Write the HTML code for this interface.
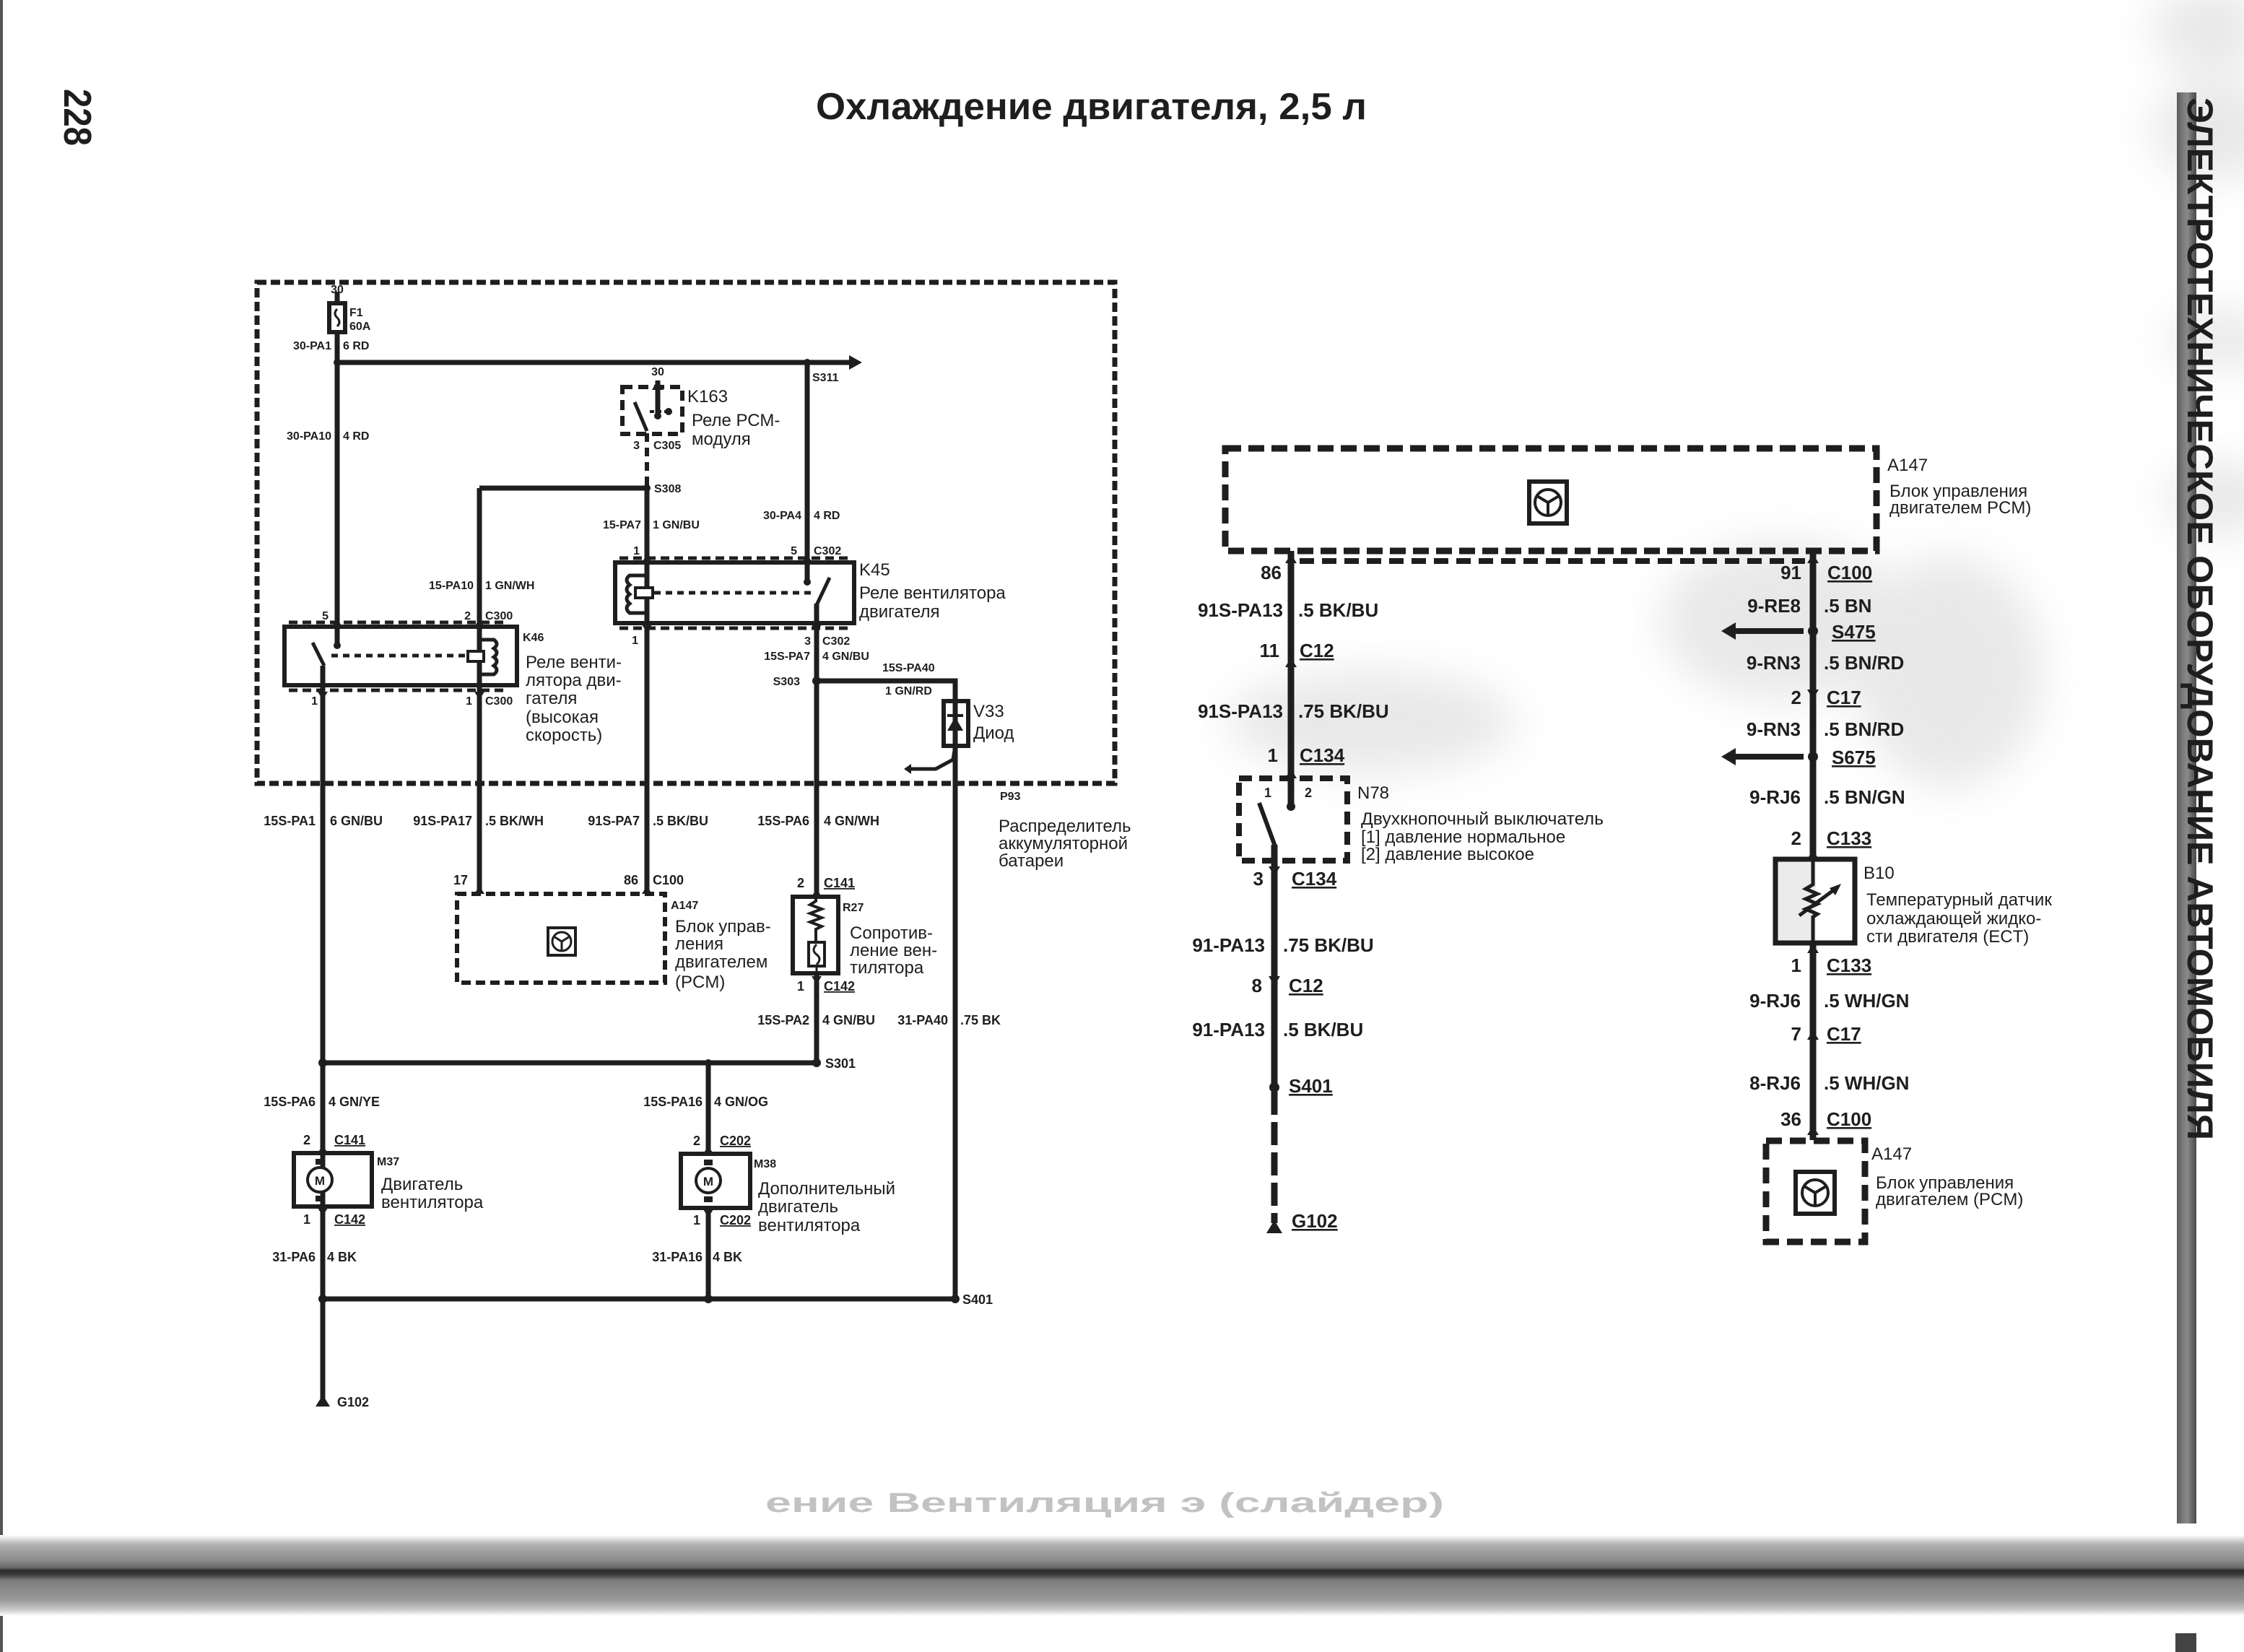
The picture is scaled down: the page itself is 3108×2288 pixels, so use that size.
<!DOCTYPE html>
<html><head><meta charset="utf-8">
<style>
html,body{margin:0;padding:0;background:#fff}
svg{display:block}
text{font-family:"Liberation Sans",sans-serif;fill:#1e1e1e}
.s{font-size:16px;font-weight:bold}
.t{font-size:18px;font-weight:bold}
.m{font-size:24px}
.r{font-size:26px;font-weight:bold}
.u{text-decoration:underline}
.w{stroke:#1e1e1e;fill:none;stroke-width:7}
.wt{stroke:#1e1e1e;fill:none;stroke-width:7}
.wr{stroke:#1e1e1e;fill:none;stroke-width:9}
.box{stroke:#1e1e1e;fill:none;stroke-width:6}
</style></head><body>
<svg width="3108" height="2288" viewBox="0 0 3108 2288" xmlns="http://www.w3.org/2000/svg">
<defs>
<filter id="bl" x="-50%" y="-50%" width="200%" height="200%"><feGaussianBlur stdDeviation="30"/></filter>
<linearGradient id="bg" x1="0" y1="0" x2="0" y2="1">
<stop offset="0" stop-color="#ffffff"/>
<stop offset="0.12" stop-color="#b0b0b0"/>
<stop offset="0.3" stop-color="#8e8e8e"/>
<stop offset="0.40" stop-color="#6a6a6a"/>
<stop offset="0.44" stop-color="#2a2a2a"/>
<stop offset="0.49" stop-color="#3c3c3c"/>
<stop offset="0.56" stop-color="#7c7c7c"/>
<stop offset="0.8" stop-color="#9a9a9a"/>
<stop offset="0.92" stop-color="#c8c8c8"/>
<stop offset="1" stop-color="#ffffff"/>
</linearGradient>
<linearGradient id="vb" x1="0" y1="0" x2="1" y2="0">
<stop offset="0" stop-color="#5a5a5a"/>
<stop offset="0.3" stop-color="#7a7a7a"/>
<stop offset="0.55" stop-color="#8a8a8a"/>
<stop offset="0.75" stop-color="#6a6a6a"/>
<stop offset="1" stop-color="#4a4a4a"/>
</linearGradient>
</defs>

<!-- scan smudges -->
<g filter="url(#bl)" fill="#c4c4c4" opacity="0.38">
<ellipse cx="2470" cy="860" rx="170" ry="110"/>
<ellipse cx="2700" cy="930" rx="130" ry="160"/>
<ellipse cx="1900" cy="1000" rx="200" ry="70"/>
<ellipse cx="3070" cy="180" rx="90" ry="70"/>
<ellipse cx="3080" cy="470" rx="80" ry="40"/>
<ellipse cx="3080" cy="690" rx="80" ry="50"/>
<ellipse cx="3060" cy="40" rx="80" ry="60"/>
</g>

<!-- left page edge -->
<rect x="0" y="0" width="4" height="2288" fill="#555"/>

<!-- page number -->
<text transform="translate(89,123) rotate(90)" font-size="54" font-weight="bold" textLength="79" lengthAdjust="spacingAndGlyphs">228</text>

<!-- title -->
<text x="1130" y="165" font-size="52" font-weight="bold" textLength="763" lengthAdjust="spacingAndGlyphs">Охлаждение двигателя, 2,5 л</text>

<!-- right side band -->
<rect x="3015" y="128" width="27" height="1982" fill="url(#vb)"/>
<text transform="translate(3030,135) rotate(90)" font-size="50" font-weight="bold" textLength="1444" lengthAdjust="spacingAndGlyphs">ЭЛЕКТРОТЕХНИЧЕСКОЕ ОБОРУДОВАНИЕ АВТОМОБИЛЯ</text>
<rect x="3013" y="2262" width="29" height="26" fill="#444"/>

<!-- bottom band -->
<rect x="0" y="2126" width="3108" height="112" fill="url(#bg)"/>
<text x="1060" y="2094" font-size="38" font-weight="bold" fill="#c2c2c2" style="fill:#c2c2c2" textLength="940" lengthAdjust="spacingAndGlyphs">ение Вентиляция э (слайдер)</text>

<!-- ================= LEFT DIAGRAM ================= -->
<rect x="356" y="391" width="1188" height="694" fill="none" stroke="#1e1e1e" stroke-width="7" stroke-dasharray="13 6"/>

<!-- fuse and bus -->
<path class="wt" d="M467 404 V420 M467 460 V894"/>
<rect x="456" y="420" width="22" height="40" class="box" stroke-width="5"/>
<path d="M467 428 q-6 6 0 12 q6 6 0 12" stroke="#1e1e1e" stroke-width="3" fill="none"/>
<text x="467" y="406" class="s" text-anchor="middle">30</text>
<text x="484" y="438" class="s">F1</text>
<text x="484" y="457" class="s">60A</text>
<text x="459" y="484" class="s" text-anchor="end">30-PA1</text>
<text x="475" y="484" class="s">6 RD</text>
<path class="wt" d="M467 502 H1180"/>
<polygon points="1176,492 1194,502 1176,512" fill="#1e1e1e"/>
<circle cx="467" cy="502" r="5" fill="#1e1e1e"/>
<text x="1125" y="528" class="s">S311</text>
<text x="459" y="609" class="s" text-anchor="end">30-PA10</text>
<text x="475" y="609" class="s">4 RD</text>

<!-- wire 30-PA4 -->
<path class="wt" d="M1118 502 V806"/>
<circle cx="1118" cy="502" r="5" fill="#1e1e1e"/>
<circle cx="1118" cy="806" r="5" fill="#1e1e1e"/>
<text x="1110" y="719" class="s" text-anchor="end">30-PA4</text>
<text x="1127" y="719" class="s">4 RD</text>
<text x="1104" y="768" class="s" text-anchor="end">5</text>
<text x="1127" y="768" class="s">C302</text>

<!-- K163 -->
<rect x="862" y="536" width="83" height="65" fill="none" stroke="#1e1e1e" stroke-width="6" stroke-dasharray="14 8"/>
<path class="wt" d="M911 527 V574" stroke-width="5"/>
<polygon points="903,540 911,526 919,540" fill="#1e1e1e"/>
<circle cx="911" cy="576" r="5" fill="#1e1e1e"/>
<path d="M900 570 H926" stroke="#1e1e1e" stroke-width="4" stroke-dasharray="6 4"/>
<circle cx="926" cy="570" r="5" fill="#1e1e1e"/>
<path d="M879 557 L896 597" stroke="#1e1e1e" stroke-width="5"/>
<text x="911" y="520" class="s" text-anchor="middle">30</text>
<text x="952" y="557" class="m" font-size="22">K163</text>
<text x="958" y="590" class="m">Реле РСМ-</text>
<text x="958" y="616" class="m">модуля</text>
<text x="886" y="622" class="s" text-anchor="end">3</text>
<text x="905" y="622" class="s">C305</text>
<path d="M896 600 V672" stroke="#1e1e1e" stroke-width="6" stroke-dasharray="12 8"/>

<!-- S308 -->
<path class="wt" d="M664 676 H896 M896 672 V1238"/>
<circle cx="896" cy="676" r="5" fill="#1e1e1e"/>
<text x="906" y="682" class="s">S308</text>
<text x="888" y="732" class="s" text-anchor="end">15-PA7</text>
<text x="904" y="732" class="s">1 GN/BU</text>
<path class="wt" d="M664 676 V1238"/>
<text x="656" y="816" class="s" text-anchor="end">15-PA10</text>
<text x="672" y="816" class="s">1 GN/WH</text>

<!-- K45 relay -->
<rect x="852" y="779" width="331" height="84" class="box"/>
<path d="M858 773 H1178 M858 870 H1178" stroke="#1e1e1e" stroke-width="5" stroke-dasharray="12 7"/>
<path d="M896 797 H872 q-8 6 0 13 q-8 6 0 13 q-8 6 0 13 q-8 6 0 13 H896" stroke="#1e1e1e" stroke-width="5" fill="none"/>
<rect x="880" y="814" width="24" height="14" fill="#fff" stroke="#1e1e1e" stroke-width="4"/>
<path d="M906 821 H1128" stroke="#1e1e1e" stroke-width="5" stroke-dasharray="9 7"/>
<path d="M1131 838 L1149 800" stroke="#1e1e1e" stroke-width="5"/>
<path class="wt" d="M1131 836 V1242"/>
<polygon points="889,779 896,768 903,779" fill="#1e1e1e"/>
<polygon points="1111,779 1118,768 1125,779" fill="#1e1e1e"/>
<polygon points="889,865 896,876 903,865" fill="#1e1e1e"/>
<polygon points="1124,865 1131,876 1138,865" fill="#1e1e1e"/>
<text x="886" y="768" class="s" text-anchor="end">1</text>
<text x="1190" y="797" class="m" font-size="22">K45</text>
<text x="1190" y="829" class="m">Реле вентилятора</text>
<text x="1190" y="855" class="m">двигателя</text>
<text x="884" y="892" class="s" text-anchor="end">1</text>
<text x="1123" y="893" class="s" text-anchor="end">3</text>
<text x="1139" y="893" class="s">C302</text>
<text x="1122" y="914" class="s" text-anchor="end">15S-PA7</text>
<text x="1139" y="914" class="s">4 GN/BU</text>

<!-- K46 relay -->
<rect x="394" y="868" width="322" height="81" class="box"/>
<path d="M400 862 H700 M400 956 H700" stroke="#1e1e1e" stroke-width="5" stroke-dasharray="12 7"/>
<circle cx="467" cy="894" r="5" fill="#1e1e1e"/>
<path d="M433 890 L449 922" stroke="#1e1e1e" stroke-width="5"/>
<path d="M459 908 H650" stroke="#1e1e1e" stroke-width="5" stroke-dasharray="9 7"/>
<path d="M664 886 H684 q8 6 0 12 q8 6 0 12 q8 6 0 12 q8 6 0 12 H664" stroke="#1e1e1e" stroke-width="5" fill="none"/>
<rect x="648" y="902" width="22" height="14" fill="#fff" stroke="#1e1e1e" stroke-width="4"/>
<polygon points="460,868 467,857 474,868" fill="#1e1e1e"/>
<polygon points="657,868 664,857 671,868" fill="#1e1e1e"/>
<polygon points="440,958 447,969 454,958" fill="#1e1e1e"/>
<polygon points="657,958 664,969 671,958" fill="#1e1e1e"/>
<text x="455" y="858" class="s" text-anchor="end">5</text>
<text x="652" y="858" class="s" text-anchor="end">2</text>
<text x="672" y="858" class="s">C300</text>
<text x="724" y="888" class="s">K46</text>
<text x="728" y="925" class="m">Реле венти-</text>
<text x="728" y="950" class="m">лятора дви-</text>
<text x="728" y="975" class="m">гателя</text>
<text x="728" y="1001" class="m">(высокая</text>
<text x="728" y="1026" class="m">скорость)</text>
<text x="440" y="976" class="s" text-anchor="end">1</text>
<text x="654" y="976" class="s" text-anchor="end">1</text>
<text x="672" y="976" class="s">C300</text>

<!-- diode branch -->
<path class="wt" d="M1131 943 H1323 V971"/>
<circle cx="1131" cy="943" r="6" fill="#1e1e1e"/>
<text x="1108" y="949" class="s" text-anchor="end">S303</text>
<text x="1222" y="930" class="s">15S-PA40</text>
<text x="1226" y="962" class="s">1 GN/RD</text>
<rect x="1307" y="971" width="34" height="62" class="box"/>
<path class="wt" d="M1323 971 V1033"/>
<polygon points="1312,1012 1334,1012 1323,993" fill="#1e1e1e"/>
<path d="M1312 991 H1334" stroke="#1e1e1e" stroke-width="4"/>
<text x="1348" y="993" class="m" font-size="22">V33</text>
<text x="1348" y="1023" class="m">Диод</text>
<path d="M1323 1033 L1320 1052 L1296 1065 H1262" stroke="#1e1e1e" stroke-width="5" fill="none"/>
<polygon points="1262,1058 1252,1065 1262,1072" fill="#1e1e1e"/>
<text x="1385" y="1108" class="s">P93</text>
<text x="1383" y="1152" class="m">Распределитель</text>
<text x="1383" y="1176" class="m">аккумуляторной</text>
<text x="1383" y="1200" class="m">батареи</text>

<!-- lower wires left diagram -->
<path class="w" stroke-width="8" d="M447 922 V1941"/>
<path class="w" stroke-width="8" d="M664 1086 V1238"/>
<path class="w" stroke-width="8" d="M896 1086 V1238"/>
<path class="w" stroke-width="8" d="M1131 1086 V1242"/>
<path class="w" stroke-width="8" d="M1323 1033 V1799"/>
<text x="437" y="1143" class="t" text-anchor="end">15S-PA1</text>
<text x="457" y="1143" class="t">6 GN/BU</text>
<text x="654" y="1143" class="t" text-anchor="end">91S-PA17</text>
<text x="672" y="1143" class="t">.5 BK/WH</text>
<text x="886" y="1143" class="t" text-anchor="end">91S-PA7</text>
<text x="904" y="1143" class="t">.5 BK/BU</text>
<text x="1121" y="1143" class="t" text-anchor="end">15S-PA6</text>
<text x="1141" y="1143" class="t">4 GN/WH</text>

<!-- PCM A147 left -->
<rect x="633" y="1238" width="288" height="123" fill="none" stroke="#1e1e1e" stroke-width="6" stroke-dasharray="13 7"/>
<polygon points="657,1238 664,1227 671,1238" fill="#1e1e1e"/>
<polygon points="889,1238 896,1227 903,1238" fill="#1e1e1e"/>
<text x="648" y="1225" class="t" text-anchor="end">17</text>
<text x="884" y="1225" class="t" text-anchor="end">86</text>
<text x="904" y="1225" class="t">C100</text>
<g transform="translate(759,1285)">
<rect x="0" y="0" width="38" height="38" fill="none" stroke="#1e1e1e" stroke-width="4"/>
<circle cx="19" cy="19" r="13" fill="none" stroke="#1e1e1e" stroke-width="3"/>
<path d="M19 19 V32 M19 19 L8 12 M19 19 L30 12" stroke="#1e1e1e" stroke-width="3"/>
</g>
<text x="929" y="1259" class="s">A147</text>
<text x="935" y="1291" class="m">Блок управ-</text>
<text x="935" y="1315" class="m">ления</text>
<text x="935" y="1340" class="m">двигателем</text>
<text x="935" y="1368" class="m">(PCM)</text>

<!-- R27 -->
<rect x="1098" y="1242" width="63" height="106" class="box"/>
<path d="M1130 1242 V1248 l-8 5 l16 6 l-16 6 l16 6 l-16 6 l16 6 l-8 4 V1305" stroke="#1e1e1e" stroke-width="4" fill="none"/>
<rect x="1120" y="1305" width="22" height="33" fill="none" stroke="#1e1e1e" stroke-width="4"/>
<path d="M1131 1308 q-8 8 0 14 q8 6 0 14 M1131 1338 V1348" stroke="#1e1e1e" stroke-width="3" fill="none"/>
<polygon points="1124,1242 1131,1231 1138,1242" fill="#1e1e1e"/>
<polygon points="1124,1352 1131,1363 1138,1352" fill="#1e1e1e"/>
<text x="1114" y="1229" class="t" text-anchor="end">2</text>
<text x="1141" y="1229" class="t u">C141</text>
<text x="1167" y="1262" class="s">R27</text>
<text x="1177" y="1300" class="m">Сопротив-</text>
<text x="1177" y="1324" class="m">ление вен-</text>
<text x="1177" y="1348" class="m">тилятора</text>
<text x="1114" y="1372" class="t" text-anchor="end">1</text>
<text x="1141" y="1372" class="t u">C142</text>
<path class="w" stroke-width="8" d="M1131 1348 V1472"/>
<text x="1121" y="1419" class="t" text-anchor="end">15S-PA2</text>
<text x="1139" y="1419" class="t">4 GN/BU</text>
<text x="1313" y="1419" class="t" text-anchor="end">31-PA40</text>
<text x="1330" y="1419" class="t">.75 BK</text>

<!-- S301 junction -->
<path class="w" stroke-width="7" d="M447 1472 H1131"/>
<circle cx="447" cy="1472" r="6" fill="#1e1e1e"/>
<circle cx="1131" cy="1472" r="6" fill="#1e1e1e"/>
<circle cx="981" cy="1472" r="5" fill="#1e1e1e"/>
<text x="1143" y="1479" class="t">S301</text>
<path class="w" stroke-width="8" d="M981 1472 V1598"/>
<text x="437" y="1532" class="t" text-anchor="end">15S-PA6</text>
<text x="455" y="1532" class="t">4 GN/YE</text>
<text x="973" y="1532" class="t" text-anchor="end">15S-PA16</text>
<text x="989" y="1532" class="t">4 GN/OG</text>

<!-- M37 -->
<rect x="407" y="1597" width="108" height="74" class="box"/>
<rect x="437" y="1605" width="12" height="8" fill="#1e1e1e"/>
<rect x="437" y="1656" width="12" height="8" fill="#1e1e1e"/>
<circle cx="443" cy="1634" r="17" fill="#fff" stroke="#1e1e1e" stroke-width="4"/>
<text x="443" y="1641" font-size="17" font-weight="bold" text-anchor="middle">M</text>
<polygon points="440,1597 447,1586 454,1597" fill="#1e1e1e"/>
<polygon points="440,1673 447,1684 454,1673" fill="#1e1e1e"/>
<text x="430" y="1585" class="t" text-anchor="end">2</text>
<text x="463" y="1585" class="t u">C141</text>
<text x="522" y="1614" class="s">M37</text>
<text x="528" y="1648" class="m">Двигатель</text>
<text x="528" y="1673" class="m">вентилятора</text>
<text x="430" y="1695" class="t" text-anchor="end">1</text>
<text x="463" y="1695" class="t u">C142</text>

<!-- M38 -->
<rect x="943" y="1598" width="96" height="75" class="box"/>
<rect x="975" y="1606" width="12" height="8" fill="#1e1e1e"/>
<rect x="975" y="1657" width="12" height="8" fill="#1e1e1e"/>
<circle cx="981" cy="1635" r="17" fill="#fff" stroke="#1e1e1e" stroke-width="4"/>
<text x="981" y="1642" font-size="17" font-weight="bold" text-anchor="middle">M</text>
<polygon points="974,1598 981,1587 988,1598" fill="#1e1e1e"/>
<polygon points="974,1675 981,1686 988,1675" fill="#1e1e1e"/>
<text x="970" y="1586" class="t" text-anchor="end">2</text>
<text x="997" y="1586" class="t u">C202</text>
<text x="1044" y="1617" class="s">M38</text>
<text x="1050" y="1654" class="m">Дополнительный</text>
<text x="1050" y="1679" class="m">двигатель</text>
<text x="1050" y="1705" class="m">вентилятора</text>
<text x="970" y="1696" class="t" text-anchor="end">1</text>
<text x="997" y="1696" class="t u">C202</text>
<path class="w" stroke-width="8" d="M981 1673 V1799"/>

<text x="437" y="1747" class="t" text-anchor="end">31-PA6</text>
<text x="453" y="1747" class="t">4 BK</text>
<text x="973" y="1747" class="t" text-anchor="end">31-PA16</text>
<text x="987" y="1747" class="t">4 BK</text>

<path class="w" stroke-width="7" d="M447 1799 H1323"/>
<circle cx="447" cy="1799" r="6" fill="#1e1e1e"/>
<circle cx="981" cy="1799" r="6" fill="#1e1e1e"/>
<circle cx="1323" cy="1799" r="6" fill="#1e1e1e"/>
<text x="1333" y="1806" class="t">S401</text>
<polygon points="437,1948 447,1932 457,1948" fill="#1e1e1e"/>
<text x="467" y="1948" class="t">G102</text>

<!-- ================= RIGHT DIAGRAM ================= -->
<rect x="1697" y="621" width="902" height="142" fill="none" stroke="#1e1e1e" stroke-width="9" stroke-dasharray="22 10"/>
<path d="M1800 777 H2500" stroke="#1e1e1e" stroke-width="8" stroke-dasharray="20 11"/>
<g transform="translate(2118,667)">
<rect x="0" y="0" width="52" height="58" fill="none" stroke="#1e1e1e" stroke-width="6"/>
<circle cx="26" cy="29" r="18" fill="none" stroke="#1e1e1e" stroke-width="4"/>
<path d="M26 29 V47 M26 29 L11 20 M26 29 L41 20" stroke="#1e1e1e" stroke-width="4"/>
</g>
<text x="2614" y="652" class="m">A147</text>
<text x="2617" y="688" class="m" font-size="23">Блок управления</text>
<text x="2617" y="711" class="m" font-size="23">двигателем PCM)</text>

<!-- left column wire -->
<path class="wr" d="M1788 763 V1117"/>
<polygon points="1780,780 1788,767 1796,780" fill="#1e1e1e"/>
<polygon points="1780,924 1788,911 1796,924" fill="#1e1e1e"/>
<polygon points="1780,1078 1788,1065 1796,1078" fill="#1e1e1e"/>
<circle cx="1788" cy="1117" r="6" fill="#1e1e1e"/>
<text x="1775" y="802" class="r" text-anchor="end">86</text>
<text x="1777" y="854" class="r" text-anchor="end">91S-PA13</text>
<text x="1798" y="854" class="r">.5 BK/BU</text>
<text x="1772" y="910" class="r" text-anchor="end">11</text>
<text x="1800" y="910" class="r u">C12</text>
<text x="1777" y="994" class="r" text-anchor="end">91S-PA13</text>
<text x="1798" y="994" class="r">.75 BK/BU</text>
<text x="1770" y="1055" class="r" text-anchor="end">1</text>
<text x="1800" y="1055" class="r u">C134</text>

<!-- N78 -->
<rect x="1716" y="1078" width="150" height="114" fill="none" stroke="#1e1e1e" stroke-width="8" stroke-dasharray="18 10"/>
<text x="1756" y="1104" class="t" text-anchor="middle">1</text>
<text x="1812" y="1104" class="t" text-anchor="middle">2</text>
<path d="M1744 1112 L1766 1172" stroke="#1e1e1e" stroke-width="6"/>
<text x="1880" y="1106" class="m">N78</text>
<text x="1885" y="1142" class="m" font-size="23" textLength="336" lengthAdjust="spacingAndGlyphs">Двухкнопочный выключатель</text>
<text x="1885" y="1167" class="m" font-size="23">[1] давление нормальное</text>
<text x="1885" y="1191" class="m" font-size="23">[2] давление высокое</text>

<path class="wr" d="M1765 1170 V1506"/>
<polygon points="1757,1200 1765,1213 1773,1200" fill="#1e1e1e"/>
<polygon points="1757,1352 1765,1365 1773,1352" fill="#1e1e1e"/>
<text x="1750" y="1226" class="r" text-anchor="end">3</text>
<text x="1789" y="1226" class="r u">C134</text>
<text x="1752" y="1318" class="r" text-anchor="end">91-PA13</text>
<text x="1777" y="1318" class="r">.75 BK/BU</text>
<text x="1748" y="1374" class="r" text-anchor="end">8</text>
<text x="1785" y="1374" class="r u">C12</text>
<text x="1752" y="1435" class="r" text-anchor="end">91-PA13</text>
<text x="1777" y="1435" class="r">.5 BK/BU</text>
<circle cx="1765" cy="1506" r="7" fill="#1e1e1e"/>
<text x="1785" y="1513" class="r u">S401</text>
<path d="M1765 1512 V1694" stroke="#1e1e1e" stroke-width="9" stroke-dasharray="32 10"/>
<polygon points="1754,1708 1765,1690 1776,1708" fill="#1e1e1e"/>
<text x="1789" y="1700" class="r u">G102</text>

<!-- right column wire -->
<path class="wr" d="M2511 763 V1190 M2511 1306 V1579"/>
<polygon points="2503,780 2511,767 2519,780" fill="#1e1e1e"/>
<text x="2495" y="802" class="r" text-anchor="end">91</text>
<text x="2531" y="802" class="r u">C100</text>
<text x="2494" y="848" class="r" text-anchor="end">9-RE8</text>
<text x="2526" y="848" class="r">.5 BN</text>
<circle cx="2511" cy="874" r="7" fill="#1e1e1e"/>
<path d="M2498 874 H2400" stroke="#1e1e1e" stroke-width="8"/>
<polygon points="2404,862 2384,874 2404,886" fill="#1e1e1e"/>
<text x="2537" y="884" class="r u">S475</text>
<text x="2494" y="927" class="r" text-anchor="end">9-RN3</text>
<text x="2526" y="927" class="r">.5 BN/RD</text>
<polygon points="2503,955 2511,968 2519,955" fill="#1e1e1e"/>
<text x="2495" y="975" class="r" text-anchor="end">2</text>
<text x="2530" y="975" class="r u">C17</text>
<text x="2494" y="1019" class="r" text-anchor="end">9-RN3</text>
<text x="2526" y="1019" class="r">.5 BN/RD</text>
<circle cx="2511" cy="1048" r="7" fill="#1e1e1e"/>
<path d="M2498 1048 H2400" stroke="#1e1e1e" stroke-width="8"/>
<polygon points="2404,1036 2384,1048 2404,1060" fill="#1e1e1e"/>
<text x="2537" y="1058" class="r u">S675</text>
<text x="2494" y="1113" class="r" text-anchor="end">9-RJ6</text>
<text x="2526" y="1113" class="r">.5 BN/GN</text>
<polygon points="2503,1190 2511,1177 2519,1190" fill="#1e1e1e"/>
<text x="2495" y="1170" class="r" text-anchor="end">2</text>
<text x="2530" y="1170" class="r u">C133</text>

<!-- B10 -->
<rect x="2459" y="1190" width="110" height="116" fill="#ebebeb" stroke="#1e1e1e" stroke-width="7"/>
<rect x="2515" y="1194" width="50" height="108" fill="#fff"/>
<path d="M2511 1190 V1225 l-10 6 l16 7 l-16 7 l16 7 l-16 7 l16 7 l-6 4 V1306" stroke="#1e1e1e" stroke-width="5" fill="none"/>
<path d="M2492 1268 L2546 1228" stroke="#1e1e1e" stroke-width="5"/>
<polygon points="2534,1230 2550,1224 2542,1240" fill="#1e1e1e"/>
<text x="2581" y="1217" class="m" font-size="26">B10</text>
<text x="2585" y="1254" class="m" font-size="23">Температурный датчик</text>
<text x="2585" y="1280" class="m" font-size="23">охлаждающей жидко-</text>
<text x="2585" y="1305" class="m" font-size="23">сти двигателя (ECT)</text>

<polygon points="2503,1320 2511,1307 2519,1320" fill="#1e1e1e"/>
<text x="2495" y="1346" class="r" text-anchor="end">1</text>
<text x="2530" y="1346" class="r u">C133</text>
<text x="2494" y="1395" class="r" text-anchor="end">9-RJ6</text>
<text x="2526" y="1395" class="r">.5 WH/GN</text>
<polygon points="2503,1440 2511,1427 2519,1440" fill="#1e1e1e"/>
<text x="2495" y="1441" class="r" text-anchor="end">7</text>
<text x="2530" y="1441" class="r u">C17</text>
<text x="2494" y="1509" class="r" text-anchor="end">8-RJ6</text>
<text x="2526" y="1509" class="r">.5 WH/GN</text>
<polygon points="2503,1572 2511,1559 2519,1572" fill="#1e1e1e"/>
<text x="2495" y="1559" class="r" text-anchor="end">36</text>
<text x="2530" y="1559" class="r u">C100</text>

<!-- A147 small -->
<rect x="2446" y="1580" width="137" height="140" fill="none" stroke="#1e1e1e" stroke-width="9" stroke-dasharray="22 11"/>
<g transform="translate(2487,1623)">
<rect x="0" y="0" width="54" height="58" fill="none" stroke="#1e1e1e" stroke-width="6"/>
<circle cx="27" cy="29" r="18" fill="none" stroke="#1e1e1e" stroke-width="4"/>
<path d="M27 29 V47 M27 29 L12 20 M27 29 L42 20" stroke="#1e1e1e" stroke-width="4"/>
</g>
<text x="2592" y="1606" class="m" font-size="26">A147</text>
<text x="2598" y="1646" class="m" font-size="23">Блок управления</text>
<text x="2598" y="1669" class="m" font-size="23">двигателем (PCM)</text>

</svg>
</body></html>
